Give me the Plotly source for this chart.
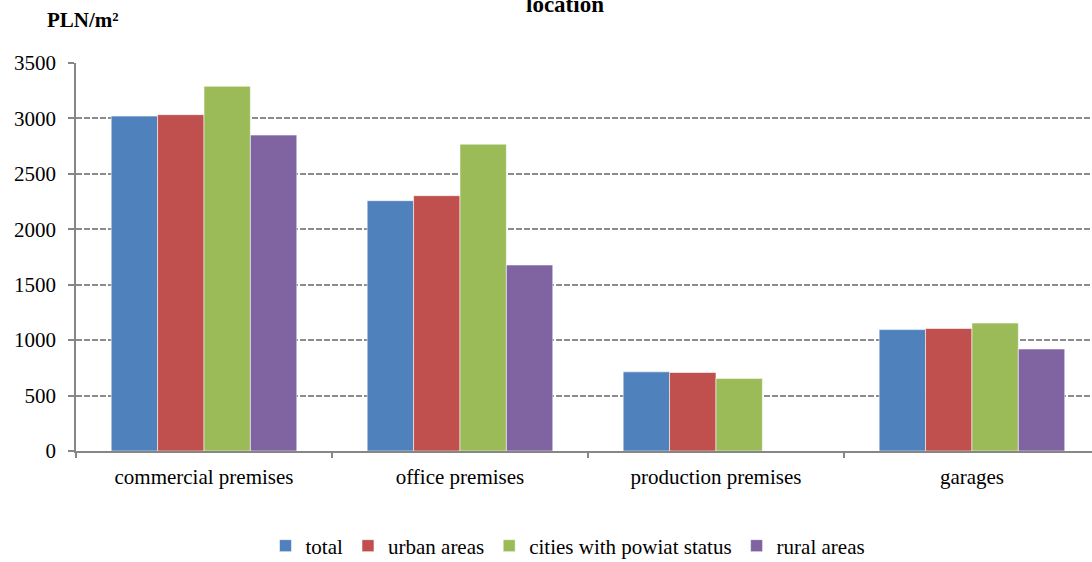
import plotly.graph_objects as go

categories = ["commercial premises", "office premises", "production premises", "garages"]
series_names = ["total", "urban areas", "cities with powiat status", "rural areas"]
total = [3021, 2258, 714, 1095]
urban = [3034, 2303, 708, 1105]
cities = [3290, 2768, 655, 1154]
rural = [2850, 1678, None, 920]
colors = ["#4F81BD", "#C0504D", "#9BBB59", "#8064A2"]
y_ticks = [0, 500, 1000, 1500, 2000, 2500, 3000, 3500]

FONT = "Liberation Serif, Times New Roman, Times, Tinos, DejaVu Serif, serif"
W, H = 1092, 574
AXIS_Y = 451
ml, mt, mr = 76, 63, 0
mb = H - AXIS_Y
PW, PH = W - ml - mr, H - mt - mb


def px_x(x):
    return (x - ml) / PW


def px_y(y):
    return (H - mb - y) / PH


fig = go.Figure()
for name, vals, col in zip(series_names, [total, urban, cities, rural], colors):
    fig.add_trace(go.Bar(
        x=categories, y=vals, name=name,
        marker=dict(color=col, line=dict(color="rgba(255,255,255,0.55)", width=1)),
    ))

fig.update_layout(
    width=W, height=H,
    margin=dict(l=ml, r=mr, t=mt, b=mb, pad=0),
    paper_bgcolor="white", plot_bgcolor="white",
    barmode="group", bargap=0.275, bargroupgap=0,
    font=dict(family=FONT, size=21, color="black"),
    showlegend=True,
    legend=dict(
        orientation="h", x=px_x(568), xanchor="center", y=px_y(546), yanchor="middle",
        font=dict(family=FONT, size=21, color="black"),
        itemwidth=30, traceorder="normal", bgcolor="rgba(0,0,0,0)",
    ),
    xaxis=dict(
        type="category", range=[-0.5, 3.469],
        showline=True, linecolor="#868686", linewidth=1.5,
        ticks="outside", tickson="boundaries", ticklen=5, tickcolor="#868686", tickwidth=1.5,
        ticklabelstandoff=6,
        tickfont=dict(family=FONT, size=21, color="black"),
        showgrid=False, zeroline=False,
    ),
    yaxis=dict(
        range=[0, 3500], tickvals=y_ticks, ticktext=[str(v) for v in y_ticks],
        showline=True, linecolor="#868686", linewidth=1.5,
        ticks="outside", ticklen=6, tickcolor="#868686", tickwidth=1.5,
        ticklabelstandoff=8,
        tickfont=dict(family=FONT, size=21, color="black"),
        showgrid=True, gridcolor="#8c8c8c", gridwidth=1.5, griddash="6px,2px",
        zeroline=False,
    ),
    annotations=[
        dict(text="<b>PLN/m²</b>", xref="paper", yref="paper",
             x=px_x(45), y=px_y(20),
             xanchor="left", yanchor="middle", showarrow=False,
             font=dict(family=FONT, size=21, color="black")),
        dict(text="<b>location</b>", xref="paper", yref="paper",
             x=px_x(565), y=px_y(4),
             xanchor="center", yanchor="middle", showarrow=False,
             font=dict(family=FONT, size=23, color="black")),
    ],
)

fig.write_html(
    "out.html",
    config={"displayModeBar": False},
    post_script="document.body.style.margin='0px';document.body.style.overflow='hidden';",
)
